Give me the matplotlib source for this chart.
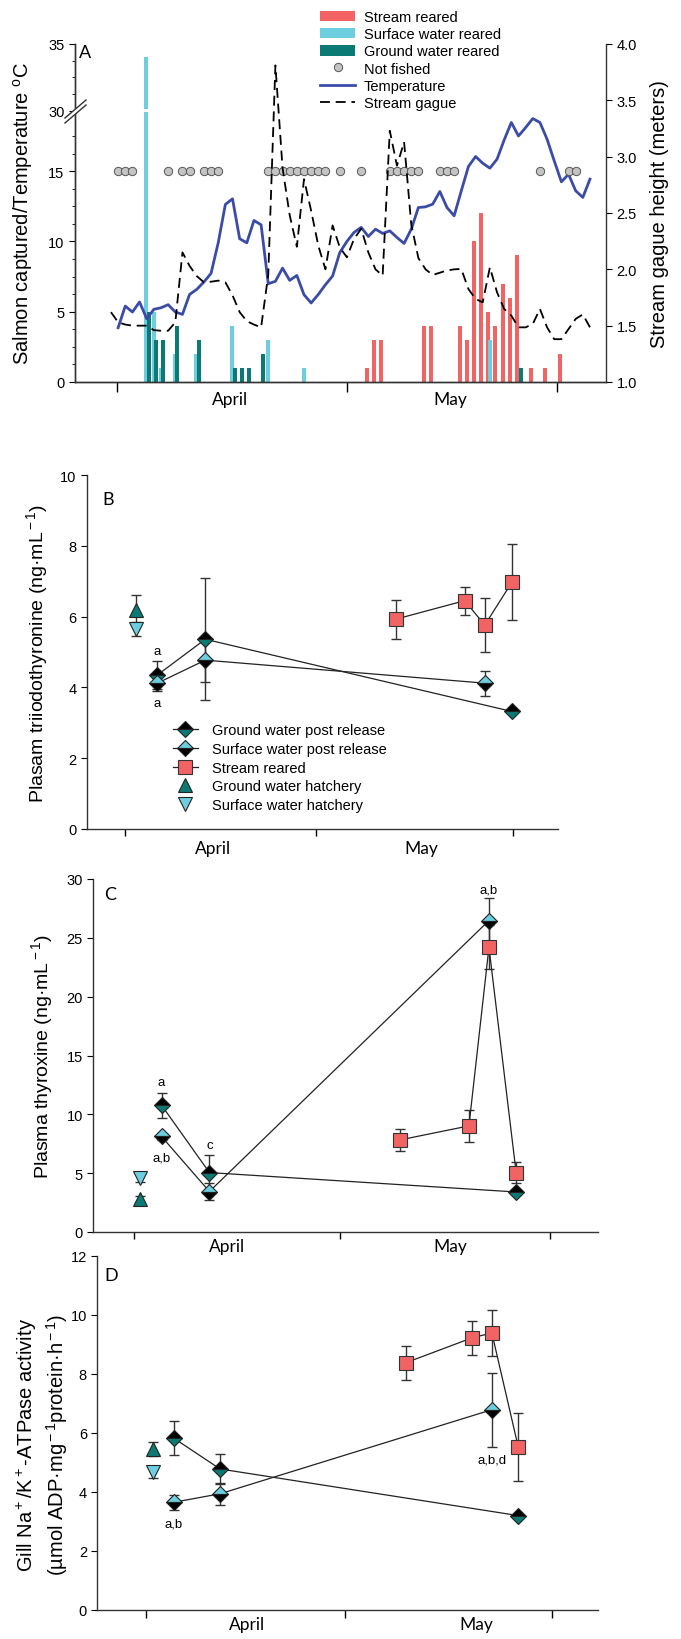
import numpy as np
import matplotlib
matplotlib.use("Agg")
import matplotlib.pyplot as plt
from matplotlib.patches import Patch, Rectangle, Polygon
from matplotlib.lines import Line2D

plt.rcParams["font.family"] = ["Liberation Sans", "DejaVu Sans"]
plt.rcParams["mathtext.fontset"] = "custom"
plt.rcParams["mathtext.rm"] = "Liberation Sans"
plt.rcParams["mathtext.it"] = "Liberation Sans:italic"
plt.rcParams["axes.linewidth"] = 1.0
plt.rcParams["axes.edgecolor"] = "#333333"

RED = "#f26464"
CYAN = "#6ccedf"
TEAL = "#0b7a75"
BLUE = "#3a4ca8"
EDGE = "#222222"

# ---------------- panel A data (days from first sampling day) ----------------
temp_days = np.arange(0, 67)
temp = [3.86, 5.4, 4.98, 5.69, 4.5, 5.17, 5.28, 5.5, 4.98, 4.81,
        6.23, 6.59, 7.11, 7.73, 9.9, 12.63, 13.03, 10.19, 9.9, 11.49,
        11.18, 6.99, 7.16, 8.1, 7.23, 7.58, 6.21, 5.62, 6.23, 6.92,
        7.54, 9.2, 10.0, 10.64, 11.0, 10.35, 10.87, 10.57, 10.75, 10.28,
        9.86, 10.87, 12.41, 12.46, 12.65, 13.55, 12.41, 11.82, 13.6, 15.33,
        16.04, 15.56, 15.21, 15.85, 17.22, 18.46, 17.5, 18.1, 18.74, 18.46,
        17.27, 15.73, 14.24, 14.78, 13.6, 13.13, 14.43]

gauge_days = np.arange(-1, 67)
gauge = [1.62, 1.53, 1.51, 1.50, 1.50, 1.50, 1.46, 1.455, 1.455, 1.53,
         2.15, 2.03, 1.94, 1.885, 1.89, 1.90, 1.885, 1.77, 1.62, 1.54,
         1.51, 1.485, 1.95, 3.81, 2.9, 2.48, 2.2, 2.80, 2.52, 2.21,
         2.0, 2.39, 2.195, 2.107, 2.27, 2.36, 2.15, 2.0, 1.944, 3.23,
         2.92, 3.13, 2.4, 2.1, 2.0, 1.95, 1.97, 1.99, 2.0, 2.003,
         1.825, 1.737, 1.707, 2.018, 1.796, 1.648, 1.589, 1.485, 1.485, 1.515,
         1.648, 1.485, 1.38, 1.38, 1.47, 1.56, 1.60, 1.485]

stream_days = [35, 36, 37, 43, 44, 48, 49, 50, 51, 52, 53, 54, 55, 56, 58, 60, 62]
stream_n = [1, 3, 3, 4, 4, 4, 3, 10, 12, 5, 4, 7, 6, 9, 1, 1, 2]
surface_days = [4, 5, 6, 8, 11, 16, 21, 26, 52]
surface_n = [34, 5, 1, 2, 2, 4, 3, 1, 3]
ground_days = [4, 5, 6, 8, 11, 16, 17, 18, 20, 56]
ground_n = [5, 3, 3, 4, 3, 1, 1, 1, 2, 1]
not_fished = [0, 1, 2, 7, 9, 10, 12, 13, 14, 21, 22, 23, 24, 25, 26, 27, 28, 29,
              31, 34, 38, 39, 40, 41, 42, 45, 46, 47, 59, 63, 64]

# ---------------- panels B-D data ----------------
hatch_day = 3
post_days_gw = [6, 12.7, 55.6]
post_days_sw = [6, 12.7, 51.8]
stream_samp = [39.4, 49, 51.8, 55.6]

t3_hatch_gw, t3_hatch_gw_e = 6.19, 0.42
t3_hatch_sw, t3_hatch_sw_e = 5.65, 0.21
t3_gw = [4.35, 5.36, 3.32]
t3_gw_e = [0.4, 1.72, 0.0]
t3_sw = [4.12, 4.77, 4.12]
t3_sw_e = [0.22, 0.62, 0.35]
t3_st = [5.93, 6.45, 5.76, 6.97]
t3_st_e = [0.55, 0.4, 0.76, 1.08]

t4_hatch_gw, t4_hatch_gw_e = 2.78, 0.25
t4_hatch_sw, t4_hatch_sw_e = 4.63, 0.37
t4_gw = [10.78, 5.05, 3.4]
t4_gw_e = [1.05, 1.5, 0.0]
t4_sw = [8.12, 3.44, 26.47]
t4_sw_e = [0.3, 0.7, 1.9]
t4_st = [7.83, 9.02, 24.2, 5.05]
t4_st_e = [0.95, 1.36, 1.85, 0.9]

nka_hatch_gw, nka_hatch_gw_e = 5.46, 0.25
nka_hatch_sw, nka_hatch_sw_e = 4.67, 0.2
nka_gw = [5.83, 4.78, 3.2]
nka_gw_e = [0.57, 0.5, 0.0]
nka_sw = [3.65, 3.94, 6.79]
nka_sw_e = [0.25, 0.38, 1.26]
nka_st = [8.38, 9.23, 9.39, 5.52]
nka_st_e = [0.57, 0.57, 0.77, 1.16]

months = ["April", "May"]

W, H = 681, 1640
fig = plt.figure(figsize=(W / 100, H / 100), dpi=100)


def px_rect(l, t, r, b):
    return [l / W, 1 - b / H, (r - l) / W, (b - t) / H]


def month_axis(ax, ticks, label_pos, pad, ticklen):
    ax.set_xticks(ticks)
    ax.set_xticklabels([])
    ax.set_xticks(label_pos, minor=True)
    ax.set_xticklabels(months, minor=True, fontfamily="Lato", fontsize=12.5)
    ax.tick_params(axis="x", which="minor", length=0, pad=pad)
    ax.tick_params(axis="x", which="major", length=ticklen, width=1, direction="out")


# ---------------- panel A ----------------
axA = fig.add_axes(px_rect(75, 45, 606, 383))
LO, HI = 19.2, 29.9
R = 13.33 / 14.07
EPS = 1e-3
GAP = (HI - LO) * EPS


def fwd(v):
    v = np.asarray(v, dtype=float)
    return np.where(v <= LO, v,
                    np.where(v >= HI, LO + GAP + (v - HI) * R, LO + (v - LO) * EPS))


def inv(u):
    u = np.asarray(u, dtype=float)
    return np.where(u <= LO, u,
                    np.where(u >= LO + GAP, HI + (u - LO - GAP) / R, LO + (u - LO) / EPS))


axA.set_yscale("function", functions=(fwd, inv))
bw = 0.56
axA.bar(np.array(stream_days) - 0.23, stream_n, width=bw, color=RED, zorder=1)
axA.bar(np.array(surface_days) - 0.05, surface_n, width=bw, color=CYAN, zorder=1)
axA.bar(np.array(ground_days) + 0.3, ground_n, width=bw, color=TEAL, zorder=1)
# white gap across the tall bar at the axis break
axA.add_patch(Rectangle((surface_days[0] - 0.05 - bw, 29.8), 2 * bw, 0.33,
                        facecolor="white", edgecolor="none", zorder=1.5))
axA.plot(temp_days, temp, color=BLUE, lw=2, zorder=2)
axA.plot(not_fished, [15] * len(not_fished), "o", ms=6, mfc="#c4c4c4", mec="#555555",
         mew=0.7, zorder=3)
axA.set_ylim(0, 35)
axA.set_xlim(-6.03, 68.24)
axA.set_yticks([0, 5, 10, 15, 30, 35])
minorA = [v for v in np.arange(1.25, 18.0, 1.25) if v % 5] + [31.25, 32.5, 33.75]
axA.set_yticks(minorA, minor=True)
axA.set_yticklabels(["0", "5", "10", "15", "30", "35"], fontsize=10.5)
axA.tick_params(axis="y", which="major", length=4, direction="out")
axA.tick_params(axis="y", which="minor", length=2.2, direction="out")
axA.spines["top"].set_visible(False)
axA.spines["right"].set_visible(False)
month_axis(axA, [-0.15, 32.0, 61.4], [15.65, 46.4], 6.5, 7.5)
axA.set_ylabel("Salmon captured/Temperature $^{\\rm o}$C", fontsize=14.5)
axA.yaxis.set_label_coords((35 - 75) / 531, 0.5)

ax2 = axA.twinx()
ax2.plot(gauge_days, gauge, color="black", lw=1.3, dashes=(5.5, 3.2), zorder=2)
ax2.set_ylim(1.0, 4.0)
ax2.set_yticks(np.arange(1.0, 4.01, 0.5))
ax2.set_yticklabels([f"{v:.1f}" for v in np.arange(1.0, 4.01, 0.5)], fontsize=10.5)
ax2.tick_params(axis="y", length=4, direction="out")
ax2.spines["top"].set_visible(False)
ax2.set_ylabel("Stream gague height (meters)", fontsize=14.5)
ax2.yaxis.set_label_coords((650 - 75) / 531, 0.5)

# axis break marks on left spine
def fpt(x, y):
    return (x / W, 1 - y / H)


fig.add_artist(Polygon([fpt(65, 119), fpt(86, 101), fpt(86, 106), fpt(65, 124)],
                       closed=True, facecolor="white", edgecolor="none",
                       transform=fig.transFigure, zorder=5))
for dy in (0, 5):
    fig.add_artist(Line2D([65 / W, 86 / W], [1 - (119 + dy) / H, 1 - (101 + dy) / H],
                          color="#333333", lw=1.0, transform=fig.transFigure, zorder=6))

legA = [Patch(facecolor=RED, edgecolor="none", label="Stream reared"),
        Patch(facecolor=CYAN, edgecolor="none", label="Surface water reared"),
        Patch(facecolor=TEAL, edgecolor="none", label="Ground water reared"),
        Line2D([], [], ls="none", marker="o", ms=6, mfc="#c4c4c4", mec="#555555",
               mew=0.7, label="Not fished"),
        Line2D([], [], color=BLUE, lw=2, label="Temperature"),
        Line2D([], [], color="black", lw=1.3, dashes=(5.5, 3.2), label="Stream gague")]
fig.legend(handles=legA, loc="upper left", bbox_to_anchor=(320 / W, 1 - 11 / H),
           frameon=False, fontsize=10.5, handlelength=2.4, handleheight=0.75,
           labelspacing=0.22, handletextpad=0.6, borderpad=0, borderaxespad=0)


# ---------------- panels B-D ----------------
def physio(ax, hgw, hgw_e, hsw, hsw_e, gw, gw_e, sw, sw_e, st, st_e):
    ek = dict(fmt="none", ecolor="#333333", elinewidth=1, capsize=3.8, capthick=1, zorder=2)
    ax.errorbar([hatch_day], [hgw], yerr=[hgw_e], **ek)
    ax.errorbar([hatch_day], [hsw], yerr=[hsw_e], **ek)
    ax.errorbar(post_days_gw, gw, yerr=gw_e, **ek)
    ax.errorbar(post_days_sw, sw, yerr=sw_e, **ek)
    ax.errorbar(stream_samp, st, yerr=st_e, **ek)
    ax.plot(stream_samp, st, "-", color=EDGE, lw=0.9, marker="s", ms=9.5,
            mfc=RED, mec="#333333", mew=0.8, zorder=3)
    ax.plot(post_days_gw, gw, "-", color=EDGE, lw=0.9, marker="D", ms=8.5,
            fillstyle="top", mfc="black", mfcalt=TEAL, mec=EDGE, mew=0.8, zorder=4)
    ax.plot(post_days_sw, sw, "-", color=EDGE, lw=0.9, marker="D", ms=8.5,
            fillstyle="top", mfc=CYAN, mfcalt="black", mec=EDGE, mew=0.8, zorder=4)
    ax.plot([hatch_day], [hgw], "^", ms=10, mfc=TEAL, mec=EDGE, mew=0.8, zorder=4)
    ax.plot([hatch_day], [hsw], "v", ms=10, mfc=CYAN, mec=EDGE, mew=0.8, zorder=4)
    ax.spines["top"].set_visible(False)
    ax.spines["right"].set_visible(False)
    ax.tick_params(axis="y", length=4, direction="out", labelsize=10.5)


axB = fig.add_axes(px_rect(86.7, 476, 558, 830))
physio(axB, t3_hatch_gw, t3_hatch_gw_e, t3_hatch_sw, t3_hatch_sw_e,
       t3_gw, t3_gw_e, t3_sw, t3_sw_e, t3_st, t3_st_e)
axB.set_xlim(-3.89, 62.05)
axB.set_ylim(0, 10)
axB.set_yticks(np.arange(0, 11, 2))
month_axis(axB, [1.47, 28.2, 55.8], [13.78, 42.97], 8.2, 5)
axB.set_ylabel("Plasam triiodothyronine (ng·mL$^{\\rm -1}$)", fontsize=14)
axB.yaxis.set_label_coords((50 - 86.7) / 471.3, 0.5)
axB.text(6, 5.02, "a", ha="center", va="center", fontsize=9.5)
axB.text(6, 3.55, "a", ha="center", va="center", fontsize=9.5)

legB = [Line2D([], [], color=EDGE, lw=0.9, marker="D", ms=8.5, fillstyle="top",
               mfc="black", mfcalt=TEAL, mec=EDGE, mew=0.8, label="Ground water post release"),
        Line2D([], [], color=EDGE, lw=0.9, marker="D", ms=8.5, fillstyle="top",
               mfc=CYAN, mfcalt="black", mec=EDGE, mew=0.8, label="Surface water post release"),
        Line2D([], [], color=EDGE, lw=0.9, marker="s", ms=9.5, mfc=RED, mec="#333333",
               mew=0.8, label="Stream reared"),
        Line2D([], [], ls="none", marker="^", ms=10, mfc=TEAL, mec=EDGE, mew=0.8,
               label="Ground water hatchery"),
        Line2D([], [], ls="none", marker="v", ms=10, mfc=CYAN, mec=EDGE, mew=0.8,
               label="Surface water hatchery")]
axB.legend(handles=legB, loc="upper left",
           bbox_to_anchor=((173 - 86.7) / 471.3, (830 - 724) / 354),
           frameon=False, fontsize=10.5, handlelength=1.7, numpoints=1,
           labelspacing=0.33, handletextpad=1.0, borderpad=0, borderaxespad=0)

axC = fig.add_axes(px_rect(93.3, 880, 598, 1233))
physio(axC, t4_hatch_gw, t4_hatch_gw_e, t4_hatch_sw, t4_hatch_sw_e,
       t4_gw, t4_gw_e, t4_sw, t4_sw_e, t4_st, t4_st_e)
axC.set_xlim(-3.54, 67.05)
axC.set_ylim(0, 30)
axC.set_yticks(np.arange(0, 31, 5))
month_axis(axC, [2.2, 31.0, 60.3], [15.16, 46.35], 4.5, 5)
axC.set_ylabel("Plasma thyroxine (ng·mL$^{\\rm -1}$)", fontsize=14)
axC.yaxis.set_label_coords((55 - 93.3) / 504.7, 0.5)
axC.text(6, 12.77, "a", ha="center", va="center", fontsize=9.5)
axC.text(6, 6.33, "a,b", ha="center", va="center", fontsize=9.5)
axC.text(12.7, 7.38, "c", ha="center", va="center", fontsize=9.5)
axC.text(51.8, 29.1, "a,b", ha="center", va="center", fontsize=9.5)

axD = fig.add_axes(px_rect(97.3, 1257, 598, 1611))
physio(axD, nka_hatch_gw, nka_hatch_gw_e, nka_hatch_sw, nka_hatch_sw_e,
       nka_gw, nka_gw_e, nka_sw, nka_sw_e, nka_st, nka_st_e)
axD.set_xlim(-4.97, 67.07)
axD.set_ylim(0, 12)
axD.set_yticks(np.arange(0, 13, 2))
month_axis(axD, [2.04, 30.7, 60.4], [16.5, 49.5], 4.5, 6)
axD.set_ylabel("Gill Na$^{\\rm +}$/K$^{\\rm +}$-ATPase activity\n"
               "(µmol ADP·mg$^{\\rm -1}$protein·h$^{\\rm -1}$)", fontsize=14.5,
               linespacing=1.25)
axD.yaxis.set_label_coords((70 - 97.3) / 500.7, 0.47)
axD.text(6, 2.92, "a,b", ha="center", va="center", fontsize=9.5)
axD.text(51.8, 5.1, "a,b,d", ha="center", va="center", fontsize=9.5)

for lab, x, y in [("A", 85, 53), ("B", 108, 500), ("C", 110, 895), ("D", 111, 1276)]:
    fig.text(x / W, 1 - y / H, lab, fontfamily="Lato", fontsize=13, ha="center", va="center")

fig.savefig("out.png", dpi=100)
